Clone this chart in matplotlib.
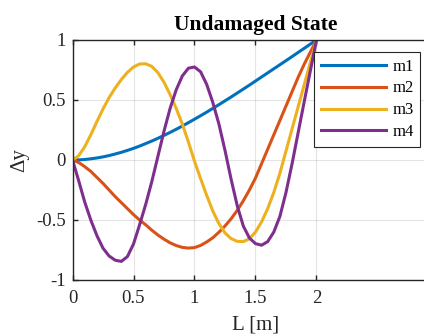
"""Mode shapes of the undamaged beam: m1..m4 along L."""
import matplotlib; matplotlib.use('Agg')
import matplotlib.pyplot as plt

plt.rcParams['font.family'] = ['Liberation Serif', 'DejaVu Serif']

# positions along the beam [m]
L = [0.00, 0.05, 0.10, 0.15, 0.20, 0.25, 0.30, 0.35, 0.40, 0.45,
     0.50, 0.55, 0.60, 0.65, 0.70, 0.75, 0.80, 0.85, 0.90, 0.95,
     1.00, 1.05, 1.10, 1.15, 1.20, 1.25, 1.30, 1.35, 1.40, 1.45,
     1.50, 1.55, 1.60, 1.65, 1.70, 1.75, 1.80, 1.85, 1.90, 1.95, 2.00]

m1 = [0.000, 0.001, 0.004, 0.010, 0.017, 0.026, 0.037, 0.050, 0.064, 0.080,
      0.097, 0.116, 0.137, 0.158, 0.181, 0.205, 0.230, 0.256, 0.283, 0.311,
      0.340, 0.369, 0.399, 0.430, 0.461, 0.493, 0.525, 0.558, 0.591, 0.624,
      0.658, 0.692, 0.726, 0.760, 0.794, 0.828, 0.862, 0.897, 0.931, 0.966, 1.000]

m2 = [0.000, -0.020, -0.055, -0.095, -0.145, -0.195, -0.250, -0.305, -0.355, -0.405,
      -0.455, -0.500, -0.540, -0.585, -0.625, -0.660, -0.690, -0.713, -0.728, -0.734,
      -0.730, -0.712, -0.683, -0.648, -0.602, -0.550, -0.490, -0.420, -0.340, -0.250,
      -0.150, -0.030, 0.090, 0.210, 0.330, 0.450, 0.570, 0.690, 0.800, 0.900, 1.000]

m3 = [0.000, 0.035, 0.110, 0.210, 0.320, 0.425, 0.520, 0.600, 0.670, 0.730,
      0.775, 0.800, 0.802, 0.780, 0.728, 0.648, 0.545, 0.430, 0.300, 0.150,
      -0.010, -0.155, -0.295, -0.425, -0.530, -0.608, -0.655, -0.678, -0.680, -0.656,
      -0.600, -0.515, -0.405, -0.270, -0.110, 0.075, 0.260, 0.445, 0.630, 0.815, 1.000]

m4 = [0.000, -0.170, -0.350, -0.500, -0.630, -0.735, -0.800, -0.835, -0.845, -0.805,
      -0.700, -0.540, -0.370, -0.180, 0.030, 0.240, 0.430, 0.585, 0.700, 0.765,
      0.775, 0.735, 0.630, 0.480, 0.300, 0.080, -0.160, -0.380, -0.550, -0.650,
      -0.697, -0.710, -0.680, -0.600, -0.470, -0.270, -0.030, 0.230, 0.490, 0.745, 1.000]

modes = [('m1', m1, '#0072BD'), ('m2', m2, '#D95319'),
         ('m3', m3, '#EDB120'), ('m4', m4, '#7E2F8E')]

x_ticks = [0, 0.5, 1, 1.5, 2]
x_tick_labels = ['0', '0.5', '1', '1.5', '2']
y_ticks = [-1, -0.5, 0, 0.5, 1]
y_tick_labels = ['-1', '-0.5', '0', '0.5', '1']

fig = plt.figure(figsize=(4.24, 3.36), dpi=100)
ax = fig.add_axes([72.5 / 424, 56 / 336, 366 / 424, 240 / 336])

for name, vals, col in modes:
    ax.plot(L, vals, color=col, lw=2.2, label=name, solid_joinstyle='round')

ax.set_xlim(0, 3); ax.set_ylim(-1, 1)
ax.set_xticks(x_ticks); ax.set_xticklabels(x_tick_labels)
ax.set_yticks(y_ticks); ax.set_yticklabels(y_tick_labels)
ax.grid(True, color='#262626', alpha=0.12, lw=0.8)
ax.set_axisbelow(True)
ax.tick_params(direction='in', length=3.5, width=1, colors='#262626',
               labelcolor='#262626', labelsize=13.5, top=True, right=True, pad=5)
ax.tick_params(axis='x', pad=7)
for sp in ax.spines.values():
    sp.set_color('#262626'); sp.set_linewidth(1)

ax.set_title('Undamaged State', fontsize=15.5, fontweight='bold', pad=7)
ax.set_xlabel('L [m]', fontsize=15, labelpad=6, color='#262626')
ax.set_ylabel('Δy', fontsize=15, labelpad=5, color='#262626')

leg = ax.legend(loc='upper left', bbox_to_anchor=(314 / 424, 1 - 52 / 336),
                bbox_transform=fig.transFigure, fontsize=12, fancybox=False,
                framealpha=1, edgecolor='#262626', handlelength=3.9,
                handletextpad=0.4, labelspacing=0.35, borderpad=0.4, borderaxespad=0)
leg.get_frame().set_linewidth(0.8)

fig.savefig('out.png', dpi=100)
plt.close(fig)
